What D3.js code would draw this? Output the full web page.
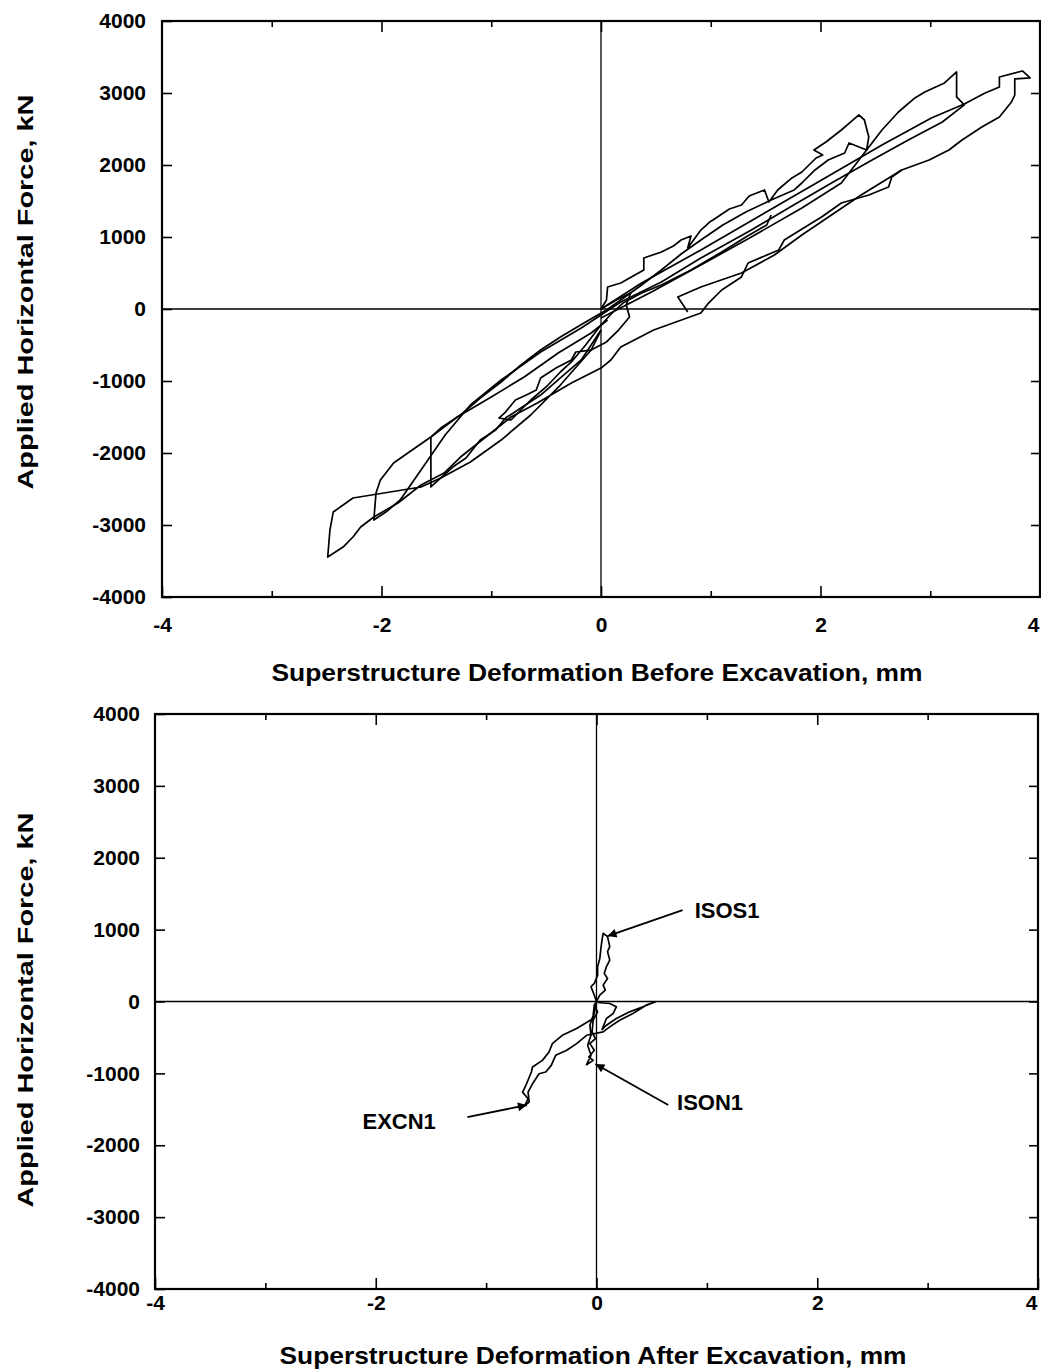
<!DOCTYPE html>
<html>
<head>
<meta charset="utf-8">
<script src="https://cdn.jsdelivr.net/npm/d3@7"></script>
<style>
  html, body { margin: 0; padding: 0; background: #fff; }
  svg { display: block; }
  text { font-family: "Liberation Sans", Arial, Helvetica, sans-serif; font-weight: bold; fill: #000; }
</style>
</head>
<body>
<svg id="chart" width="1041" height="1371"></svg>
<script>
// ---- Axis ticks -------------------------------------------------------
const xMajorTicks = [-4, -2, 0, 2, 4];
const xMinorTicks = [-3, -1, 1, 3];
const yTicks = [-4000, -3000, -2000, -1000, 0, 1000, 2000, 3000, 4000];

// ---- Before excavation: force–deformation loops, [mm, kN] -------------
// Largest cycle, peaking near +3.9 mm and -2.5 mm
const beforeCycle4 = [
  [0.00, 0], [0.37, 361], [0.91, 820], [1.46, 1306], [2.01, 1792], [2.56, 2278],
  [3.01, 2653], [3.31, 2847], [3.50, 3000], [3.63, 3084], [3.63, 3222], [3.84, 3306],
  [3.91, 3209], [3.77, 3195], [3.77, 2972], [3.74, 2875], [3.63, 2667], [3.47, 2528],
  [3.29, 2347], [3.17, 2208], [2.99, 2070], [2.74, 1931], [2.65, 1833], [2.62, 1695],
  [2.44, 1583], [2.19, 1472], [2.01, 1278], [1.92, 1195], [1.67, 958], [1.62, 820],
  [1.34, 639], [1.28, 445], [1.10, 264], [0.98, 83], [0.91, -56], [0.48, -292],
  [0.18, -528], [0.09, -708], [0.00, -820], [-0.27, -1028], [-0.58, -1306], [-0.82, -1500],
  [-1.28, -2056], [-1.43, -2278], [-1.64, -2445], [-1.85, -2695], [-2.07, -2889],
  [-2.19, -3028], [-2.26, -3167], [-2.35, -3306], [-2.49, -3445], [-2.47, -3070],
  [-2.44, -2820], [-2.26, -2625], [-1.64, -2472], [-1.46, -2347], [-1.19, -2125],
  [-0.91, -1820], [-0.64, -1472], [-0.37, -1056], [-0.09, -570], [0.00, -292]
];

// Cycle peaking near +3.25 mm and -2.05 mm
const beforeCycle3 = [
  [0.00, -125], [0.46, 236], [0.91, 611], [1.37, 1000], [1.83, 1403], [2.19, 1750],
  [2.42, 2208], [2.56, 2486], [2.71, 2736], [2.86, 2931], [2.95, 3014], [3.13, 3139],
  [3.24, 3292], [3.24, 2945], [3.31, 2834], [3.11, 2597], [2.80, 2347], [2.47, 2070],
  [2.10, 1750], [1.74, 1431], [1.37, 1097], [0.91, 708], [0.55, 375], [0.18, 97],
  [0.00, -83], [-0.18, -264], [-0.55, -597], [-0.91, -986], [-1.19, -1333], [-1.42, -1750],
  [-1.64, -2236], [-1.83, -2653], [-1.96, -2820], [-2.07, -2931], [-2.05, -2556],
  [-2.01, -2375], [-1.89, -2139], [-1.76, -2000], [-1.55, -1778], [-1.31, -1500],
  [-1.00, -1222], [-0.70, -945], [-0.39, -611], [-0.09, -333], [0.06, -153]
];

// Cycle peaking near +2.4 mm and -1.55 mm
const beforeCycle2 = [
  [0.00, 0], [0.05, 125], [0.06, 306], [0.18, 361], [0.39, 542], [0.39, 708],
  [0.55, 792], [0.66, 875], [0.73, 958], [0.82, 1014], [0.79, 847], [0.91, 1097],
  [0.99, 1208], [1.02, 1236], [1.17, 1389], [1.28, 1445], [1.35, 1570], [1.49, 1653],
  [1.53, 1486], [1.61, 1653], [1.74, 1820], [1.83, 1903], [1.96, 2097], [2.02, 2139],
  [1.94, 2208], [2.05, 2320], [2.19, 2486], [2.35, 2695], [2.40, 2625], [2.44, 2389],
  [2.42, 2208], [2.26, 2306], [2.22, 2167], [2.07, 2070], [1.95, 1931], [1.83, 1750],
  [1.76, 1653], [1.55, 1514], [1.32, 1347], [1.11, 1167], [0.91, 958], [0.73, 764],
  [0.55, 542], [0.37, 333], [0.18, 125], [0.05, -14], [-0.14, -181], [-0.37, -389],
  [-0.55, -570], [-0.73, -778], [-0.91, -1014], [-1.10, -1236], [-1.28, -1472],
  [-1.46, -1653], [-1.55, -1778], [-1.55, -2472], [-1.46, -2347], [-1.35, -2195],
  [-1.23, -2070], [-1.10, -1820], [-0.96, -1681], [-0.87, -1514], [-0.73, -1375],
  [-0.55, -1195], [-0.37, -958], [-0.18, -708], [-0.09, -500], [0.00, -292]
];

// Small cycles around the origin
const beforeCycle1 = [
  [0.00, 0], [0.14, 125], [0.27, 222], [0.23, 56], [0.26, -111], [0.16, -292],
  [0.05, -458], [-0.09, -570], [-0.23, -597], [-0.27, -708], [-0.41, -820], [-0.55, -958],
  [-0.59, -1125], [-0.68, -1195], [-0.78, -1264], [-0.87, -1431], [-0.93, -1514],
  [-0.82, -1542], [-0.73, -1403], [-0.64, -1264], [-0.50, -1083], [-0.37, -875],
  [-0.27, -736], [-0.14, -500], [0.00, -222], [0.11, -42], [0.20, 83], [0.37, 222],
  [0.55, 333], [0.82, 542], [1.10, 792], [1.32, 1000], [1.51, 1167], [1.55, 1306]
];

// Reloading branch starting near +0.8 mm
const beforeReload = [
  [0.79, -42], [0.70, 167], [0.91, 306], [1.28, 500], [1.58, 750], [1.83, 1028],
  [2.10, 1306], [2.37, 1583], [2.74, 1931]
];

// ---- After excavation: [mm, kN] ---------------------------------------
const isos1 = [
  [0.00, 0], [0.03, 88], [0.08, 158], [0.06, 228], [0.10, 321], [0.07, 391],
  [0.09, 484], [0.12, 577], [0.10, 694], [0.12, 763], [0.10, 903], [0.06, 949],
  [0.05, 856], [0.04, 740], [0.03, 600], [0.01, 484], [0.01, 367], [-0.02, 251],
  [-0.05, 205], [-0.02, 88], [0.00, 0]
];
const ison1 = [
  [0.00, 0], [-0.02, -51], [0.01, -144], [-0.03, -260], [-0.04, -423], [-0.01, -516],
  [-0.06, -586], [-0.02, -679], [-0.07, -772], [-0.03, -819], [-0.09, -879],
  [-0.05, -749], [-0.08, -609], [-0.05, -470], [-0.06, -330], [-0.03, -190], [-0.02, -51]
];
const excn1 = [
  [0.00, 0], [-0.03, -237], [-0.18, -377], [-0.31, -470], [-0.40, -586], [-0.43, -702],
  [-0.49, -819], [-0.58, -912], [-0.59, -981], [-0.64, -1168], [-0.67, -1261],
  [-0.62, -1354], [-0.65, -1447], [-0.61, -1400], [-0.62, -1261], [-0.58, -1145],
  [-0.52, -1005], [-0.46, -981], [-0.41, -889], [-0.37, -749], [-0.27, -679],
  [-0.18, -586], [-0.09, -470], [0.06, -423], [0.12, -353], [0.21, -260], [0.33, -168],
  [0.45, -51], [0.53, -5], [0.42, -74], [0.30, -144], [0.18, -237], [0.09, -330],
  [0.05, -390], [0.09, -237], [0.15, -168], [0.18, -74], [0.12, -28], [0.01, -14]
];

// Curve labels with leader arrows: text anchor, arrow start, arrow tip
const afterLabels = [
  { name: "ISOS1", at: [0.89, 1160], from: [0.78, 1270], to: [0.10, 910] },
  { name: "ISON1", at: [0.73, -1510], from: [0.65, -1440], to: [-0.01, -870] },
  { name: "EXCN1", at: [-2.12, -1780], from: [-1.17, -1610], to: [-0.63, -1440] }
];

// ---- Drawing ----------------------------------------------------------
const svg = d3.select("#chart");

svg.append("defs").append("marker")
  .attr("id", "arrowhead")
  .attr("viewBox", "0 0 10 10")
  .attr("refX", 10).attr("refY", 5)
  .attr("markerWidth", 18).attr("markerHeight", 9)
  .attr("markerUnits", "userSpaceOnUse")
  .attr("orient", "auto")
  .append("path").attr("d", "M0,0 L10,5 L0,10 Z").attr("fill", "#000");

const tickText = d => String(d);   // plain hyphen-minus for negatives

function drawPanel(cfg) {
  const x = d3.scaleLinear().domain([-4, 4]).range([cfg.left, cfg.right]);
  const y = d3.scaleLinear().domain([-4000, 4000]).range([cfg.bottom, cfg.top]);
  const g = svg.append("g");

  // zero reference lines
  g.append("line").attr("x1", x(0)).attr("x2", x(0)).attr("y1", cfg.top).attr("y2", cfg.bottom)
    .attr("stroke", "#000").attr("stroke-width", 1.3);
  g.append("line").attr("x1", cfg.left).attr("x2", cfg.right).attr("y1", y(0)).attr("y2", y(0))
    .attr("stroke", "#000").attr("stroke-width", 1.5);

  // inward ticks on all four sides
  const styleAxis = sel => {
    sel.select(".domain").remove();
    sel.selectAll(".tick line").attr("stroke", "#000").attr("stroke-width", 1.6);
    sel.selectAll("text").attr("font-size", 21).attr("font-family", null);
  };
  g.append("g").attr("transform", `translate(${cfg.left},0)`)
    .call(d3.axisLeft(y).tickValues(yTicks).tickSize(-10).tickPadding(cfg.yLabelPad).tickFormat(tickText))
    .call(styleAxis);
  g.append("g").attr("transform", `translate(${cfg.right},0)`)
    .call(d3.axisRight(y).tickValues(yTicks.slice(1, -1)).tickSize(-9).tickFormat(""))
    .call(styleAxis);
  const xAxis = g.append("g").attr("transform", `translate(0,${cfg.bottom})`)
    .call(d3.axisBottom(x).tickValues(xMajorTicks).tickSize(-11).tickPadding(cfg.xLabelPad).tickFormat(tickText))
    .call(styleAxis);
  // keep the rightmost label inside the page edge
  xAxis.selectAll(".tick text").filter(d => d === 4).attr("text-anchor", "end").attr("dx", -1);
  g.append("g").attr("transform", `translate(0,${cfg.bottom})`)
    .call(d3.axisBottom(x).tickValues(xMinorTicks).tickSize(-6).tickFormat(""))
    .call(styleAxis);
  g.append("g").attr("transform", `translate(0,${cfg.top})`)
    .call(d3.axisTop(x).tickValues(xMajorTicks.slice(1, -1)).tickSize(-11).tickFormat(""))
    .call(styleAxis);
  g.append("g").attr("transform", `translate(0,${cfg.top})`)
    .call(d3.axisTop(x).tickValues(xMinorTicks).tickSize(-6).tickFormat(""))
    .call(styleAxis);

  // frame
  g.append("rect").attr("x", cfg.left).attr("y", cfg.top)
    .attr("width", cfg.right - cfg.left).attr("height", cfg.bottom - cfg.top)
    .attr("fill", "none").attr("stroke", "#000").attr("stroke-width", 2.2);

  // data curves
  const line = d3.line().x(d => x(d[0])).y(d => y(d[1]));
  g.selectAll("path.curve").data(cfg.series).join("path")
    .attr("class", "curve")
    .attr("d", line)
    .attr("fill", "none").attr("stroke", "#000")
    .attr("stroke-width", 1.7).attr("stroke-linejoin", "round");

  // labels with arrows
  (cfg.labels || []).forEach(l => {
    g.append("line")
      .attr("x1", x(l.from[0])).attr("y1", y(l.from[1]))
      .attr("x2", x(l.to[0])).attr("y2", y(l.to[1]))
      .attr("stroke", "#000").attr("stroke-width", 1.8)
      .attr("marker-end", "url(#arrowhead)");
    g.append("text").attr("x", x(l.at[0])).attr("y", y(l.at[1]))
      .attr("font-size", 22).text(l.name);
  });

  // axis titles
  g.append("text")
    .attr("x", cfg.xTitleX).attr("y", cfg.xTitleY)
    .attr("text-anchor", "middle").attr("font-size", 24)
    .attr("textLength", cfg.xTitleLen).attr("lengthAdjust", "spacingAndGlyphs")
    .text(cfg.xTitle);
  g.append("text")
    .attr("transform", `translate(33,${cfg.yTitleY}) rotate(-90)`)
    .attr("text-anchor", "middle").attr("font-size", 22)
    .attr("textLength", 395).attr("lengthAdjust", "spacingAndGlyphs")
    .text("Applied Horizontal Force, kN");
}

drawPanel({
  left: 162, right: 1040, top: 21, bottom: 597,
  xLabelPad: 20, yLabelPad: 16,
  series: [beforeCycle4, beforeCycle3, beforeCycle2, beforeCycle1, beforeReload],
  xTitle: "Superstructure Deformation Before Excavation, mm",
  xTitleX: 597, xTitleY: 681, xTitleLen: 651, yTitleY: 292
});

drawPanel({
  left: 155, right: 1038, top: 714, bottom: 1289,
  xLabelPad: 6, yLabelPad: 15,
  series: [isos1, ison1, excn1],
  labels: afterLabels,
  xTitle: "Superstructure Deformation After Excavation, mm",
  xTitleX: 593, xTitleY: 1364, xTitleLen: 627, yTitleY: 1010
});
</script>
</body>
</html>
